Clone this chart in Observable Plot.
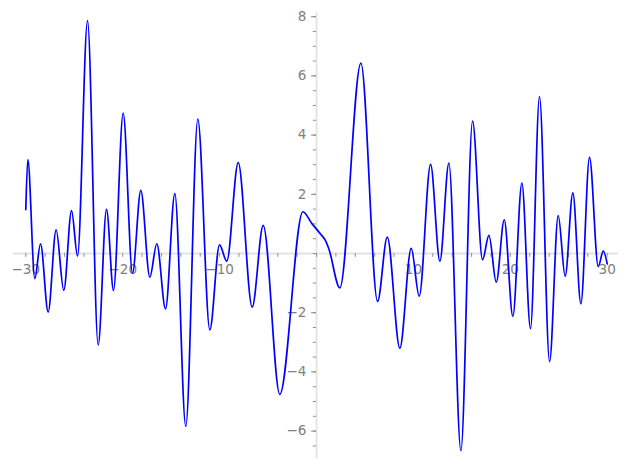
<!DOCTYPE html>
<html>
<head>
<meta charset="utf-8">
<script src="https://cdn.jsdelivr.net/npm/d3@7"></script>
<script src="https://cdn.jsdelivr.net/npm/@observablehq/plot@0.6"></script>
<style>
  html, body { margin: 0; padding: 0; background: #fff; }
</style>
</head>
<body>
<div id="chart"></div>
<script>
// Curve sample points (extrema + shoulders)
const curveX = [-30, -29.79, -29.07, -28.48, -27.69, -26.87, -26.08, -25.28, -24.66, -23.63, -22.53, -21.67, -20.95,
  -19.95, -18.99, -18.13, -17.2, -16.48, -15.58, -14.62, -13.49, -12.25, -11.01, -10.01, -9.26, -8.08, -6.64, -5.5, -3.79,
  -1.41, -0.45, 0.41, 0.9, 1.27, 2.41, 4.58, 6.3, 7.3, 8.6, 9.77, 10.6, 11.77, 12.73, 13.66, 14.9, 16.1, 17.13, 17.79,
  18.55, 19.37, 20.26, 21.19, 22.08, 23.01, 24.05, 24.94, 25.66, 26.45, 27.28, 28.17, 29.07, 29.59, 30];
const curveY = [1.48, 3.17, -0.85, 0.33, -1.98, 0.80, -1.25, 1.45, -0.09, 7.87, -3.09, 1.49, -1.25,
  4.74, -0.66, 2.13, -0.80, 0.33, -1.87, 2.02, -5.84, 4.54, -2.58, 0.29, -0.26, 3.07, -1.81, 0.95, -4.76,
  1.41, 1.0, 0.66, 0.45, 0.16, -1.16, 6.43, -1.62, 0.55, -3.2, 0.17, -1.44, 3.01, -0.26, 3.05, -6.66, 4.47, -0.21, 0.61,
  -0.97, 1.14, -2.12, 2.38, -2.54, 5.30, -3.65, 1.28, -0.77, 2.05, -1.70, 3.25, -0.44, 0.08, -0.35];

// Axis ticks and labels
const xMajorTicks = [-30, -20, -10, 10, 20, 30];
const xMinorTicks = [-30, -28, -26, -24, -22, -20, -18, -16, -14, -12, -10, -8, -6, -4, -2, 0, 2, 4, 6, 8, 10, 12, 14, 16, 18, 20, 22, 24, 26, 28, 30];
const yMajorTicks = [-6, -4, -2, 2, 4, 6, 8];
const yMinorTicks = [-6.5, -6, -5.5, -5, -4.5, -4, -3.5, -3, -2.5, -2, -1.5, -1, -0.5, 0, 0.5, 1, 1.5, 2, 2.5, 3, 3.5, 4, 4.5, 5, 5.5, 6, 6.5, 7, 7.5, 8];
const xAxisExtent = [-31.27, 31.17];
const yAxisExtent = [-6.93, 8.15];

const pts = curveX.map((x, i) => ({x, y: curveY[i]}));
const fmt = v => (v < 0 ? "\u2212" + Math.abs(v) : String(v));

const chart = Plot.plot({
  width: 627,
  height: 469,
  marginLeft: 0, marginRight: 0, marginTop: 0, marginBottom: 0,
  x: {domain: [-32.61, 32.09], axis: null},
  y: {domain: [-7.297, 8.547], axis: null},
  style: {fontFamily: "DejaVu Sans", fontSize: "13.6px", background: "#fff", overflow: "visible"},
  marks: [
    Plot.ruleY([0], {x1: xAxisExtent[0], x2: xAxisExtent[1], stroke: "#e3e3e3", strokeWidth: 1.8}),
    Plot.ruleX([0], {y1: yAxisExtent[0], y2: yAxisExtent[1], stroke: "#e3e3e3", strokeWidth: 1.8}),
    Plot.ruleX(xMinorTicks, {x: d => d, y1: 0, y2: -0.13, stroke: "#888", strokeWidth: 0.9}),
    Plot.ruleY(yMinorTicks, {y: d => d, x1: -0.33, x2: 0, stroke: "#888", strokeWidth: 0.9}),
    Plot.ruleY(yMajorTicks, {y: d => d, x1: -0.52, x2: 0, stroke: "#888", strokeWidth: 0.9}),
    Plot.text(xMajorTicks, {x: d => d, y: 0, dy: 16, text: fmt, fill: "#808080"}),
    Plot.text(yMajorTicks, {x: 0, y: d => d, dx: -10, textAnchor: "end", text: fmt, fill: "#808080"}),
    Plot.line(pts, {x: "x", y: "y", stroke: "#0000ff", strokeWidth: 1.7, curve: "monotone-x"})
  ]
});
document.getElementById("chart").appendChild(chart);
</script>
</body>
</html>
